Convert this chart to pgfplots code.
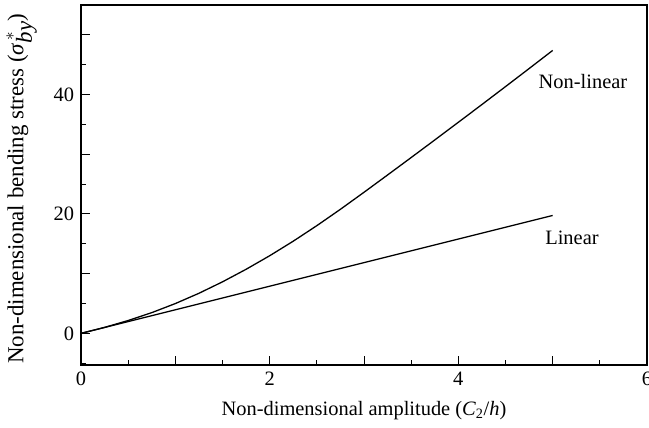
\documentclass[border=0pt]{standalone}
\usepackage{pgfplots}
\pgfplotsset{compat=1.18}
\usepackage{fontspec}
\setmainfont{Liberation Serif}
\begin{document}
\fontsize{20.5}{24}\selectfont
\begin{tikzpicture}
\begin{axis}[
  name=ax,
  scale only axis, width=566bp, height=360bp,
  xmin=0, xmax=6, ymin=-5.3, ymax=55,
  axis line style={line width=1.4bp},
  tick align=inside, xtick pos=bottom, ytick pos=left,
  xtick={0,1,...,6}, xticklabels={0,,2,,4,,6},
  minor xtick={0.5,1.5,2.5,3.5,4.5,5.5},
  ytick={0,10,20,30,40,50}, yticklabels={0,,20,,40,},
  minor ytick={-5,5,15,25,35,45},
  major tick length=9bp, minor tick length=5.5bp,
  every tick/.style={line width=1bp, black},
  ticklabel style={font=\fontsize{20.5}{24}\selectfont},
  /pgf/number format/assume math mode=true,
  xlabel style={font=\fontsize{20.5}{24}\selectfont, yshift=-2bp},
  ylabel style={font=\fontsize{23}{27}\selectfont, inner sep=0.5bp, at={(axis description cs:-0.102,0.49)}, anchor=base, rotate=0},
  xlabel={Non-dimensional amplitude (\textit{C}\textsubscript{2}/\textit{h})},
  ylabel={Non-dimensional bending stress (\textit{σ}$^{\,*}_{\textit{by}}$)},
]
\addplot[black, line width=1.3bp] coordinates {
(0,0) (0.25,1.0) (0.5,2.15) (0.75,3.47) (1.0,4.99) (1.25,6.71) (1.5,8.63)
(1.75,10.73) (2.0,13.0) (2.25,15.44) (2.5,18.04) (2.75,20.78) (3.0,23.63)
(3.25,26.53) (3.5,29.45) (3.75,32.39) (4.0,35.35) (4.25,38.33) (4.5,41.33)
(4.75,44.35) (5.0,47.39)};
\addplot[black, line width=1.3bp] coordinates {(0,0) (5,19.75)};
\node[anchor=west, inner sep=0pt, font=\fontsize{20.5}{24}\selectfont] at (axis cs:4.85,42.2) {Non-linear};
\node[anchor=west, inner sep=0pt, font=\fontsize{20.5}{24}\selectfont] at (axis cs:4.92,16.0) {Linear};
\end{axis}
\pgfresetboundingbox
\useasboundingbox ([xshift=-81bp,yshift=-63bp]ax.south west) rectangle ([xshift=2bp,yshift=5bp]ax.north east);
\end{tikzpicture}
\end{document}
